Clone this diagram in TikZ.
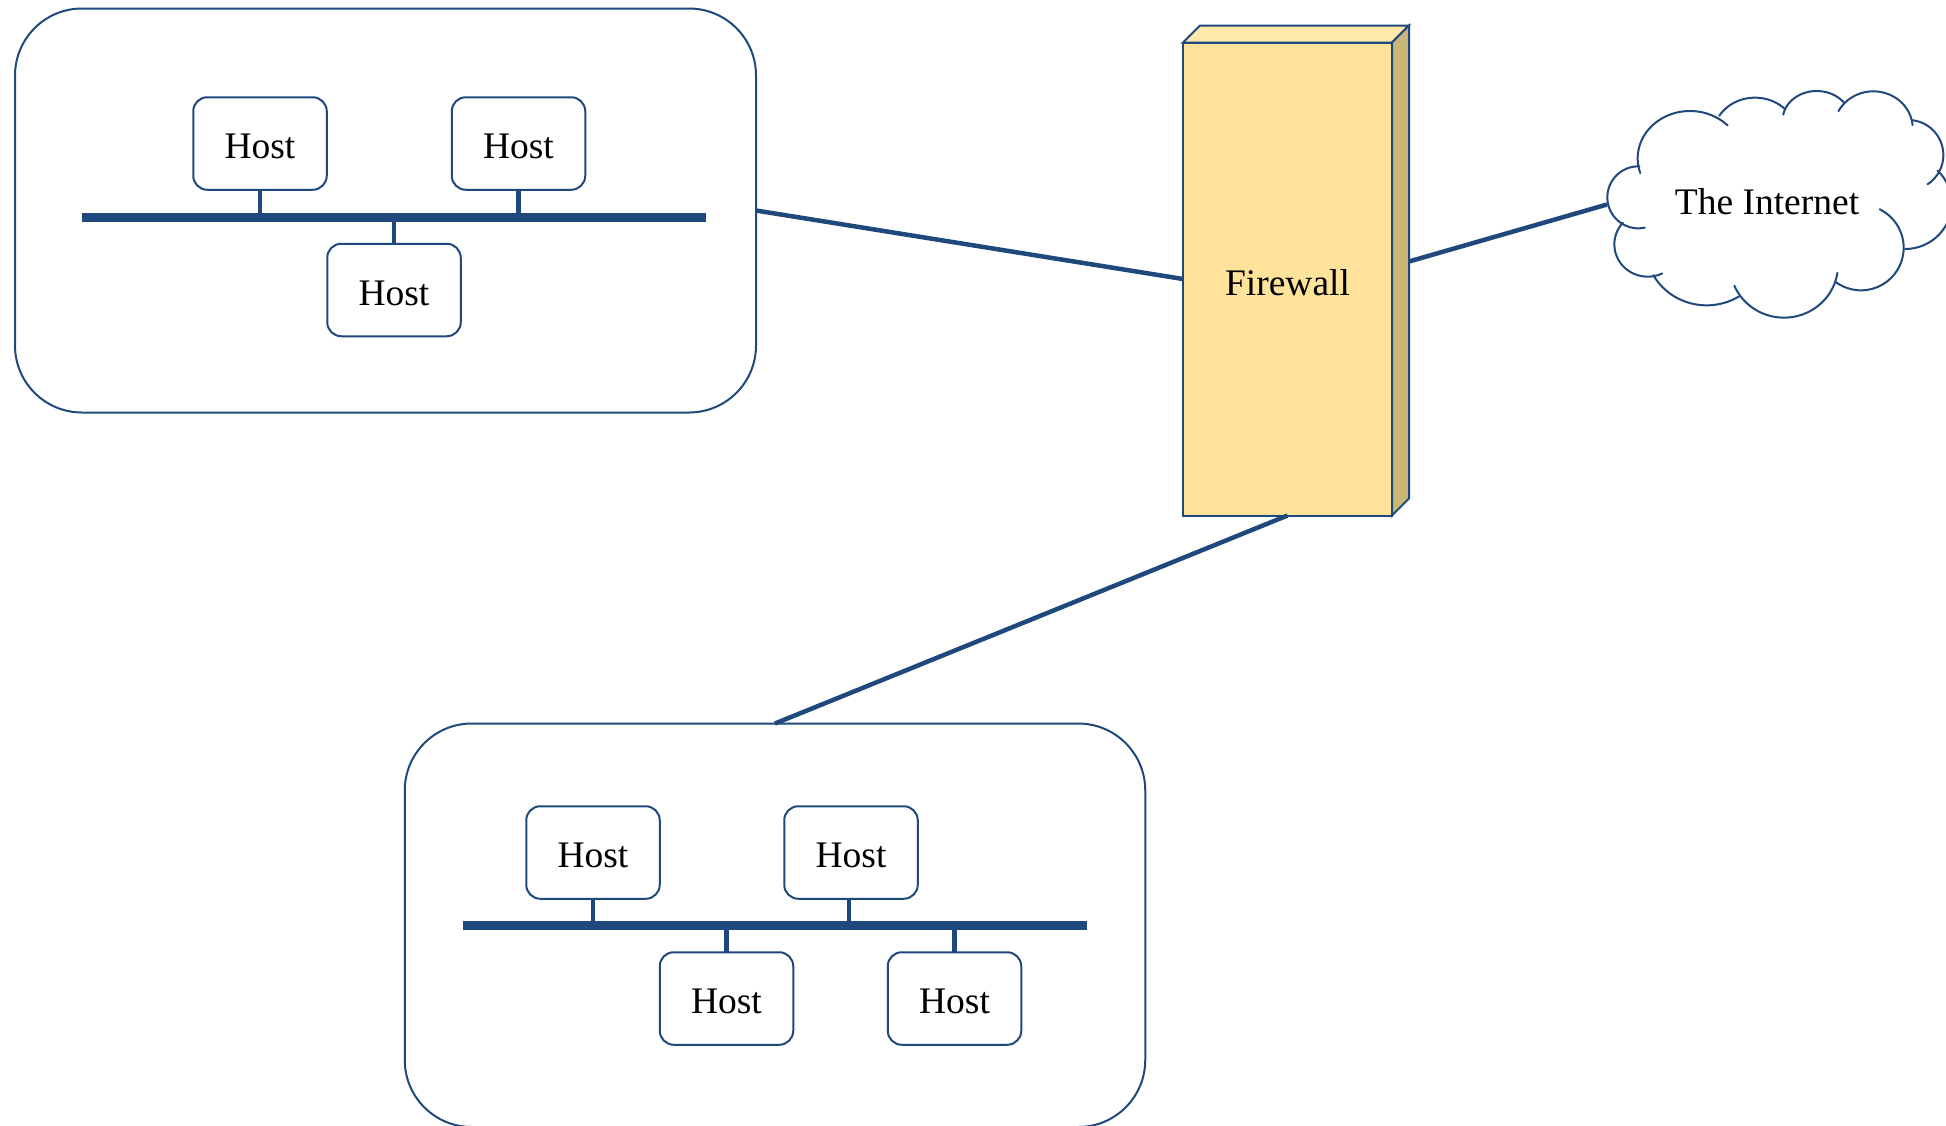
\documentclass[tikz,border=0pt]{standalone}
\usepackage{fontspec}
\setmainfont{Liberation Serif}
\definecolor{navy}{HTML}{1F497D}
\definecolor{fwfront}{HTML}{FFE39A}
\definecolor{fwtop}{HTML}{FEE9AB}
\definecolor{fwside}{HTML}{C9B778}
\tikzset{
  netbox/.style={draw=navy,line width=2pt,rounded corners=67pt,fill=white,inner sep=0pt,outer sep=0pt},
  hostbox/.style={draw=navy,line width=2pt,rounded corners=14pt,fill=white,minimum width=133.5pt,minimum height=92.5pt,inner sep=0pt,outer sep=0pt,text height=30pt,text depth=0pt,font=\fontsize{37.5}{40}\selectfont},
  busline/.style={draw=navy,line width=8.5pt},
  stub/.style={draw=navy,line width=4.5pt},
  link/.style={draw=navy,line width=4.5pt},
  fwedge/.style={draw=navy,line width=2pt,line join=miter},
  lobe/.style={draw=navy,line width=2pt,line cap=round},
  label/.style={inner sep=0pt,outer sep=0pt,font=\fontsize{37.5}{40}\selectfont}
}
% centre x, centre y, x radius, y radius, start angle, end angle
\newcommand{\cloudlobe}[6]{\draw[lobe] plot[domain=#5:#6,samples=40,smooth] ({#1+#3*cos(\x)},{#2+#4*sin(\x)});}
\begin{document}
\begin{tikzpicture}[x=1pt,y=-1pt]
\useasboundingbox (0,0) rectangle (1946,1125);
\clip (0,0) rectangle (1946,1125);
\fill[white] (0,0) rectangle (1946,1125);

% Network boxes
\node[netbox,minimum width=741pt,minimum height=404pt] (netA) at (385.5,210.5) {};
\node[netbox,minimum width=740.5pt,minimum height=403.5pt] (netB) at (775,925.25) {};

% Upper network
\coordinate (busAl) at (82,217.5);
\coordinate (busAr) at (706,217.5);
\node[hostbox] (a1) at (260,143.5) {Host};
\node[hostbox] (a2) at (518.5,143.5) {Host};
\node[hostbox] (a3) at (394,290) {Host};
\draw[busline] (busAl) -- (busAr);
\draw[stub] (a1.south) -- (a1.south |- busAl);
\draw[stub] (a2.south) -- (a2.south |- busAl);
\draw[stub] (a3.north) -- (a3.north |- busAl);

% Lower network
\coordinate (busBl) at (463,925.5);
\coordinate (busBr) at (1087,925.5);
\node[hostbox] (b1) at (593,852.5) {Host};
\node[hostbox] (b2) at (851,852.5) {Host};
\node[hostbox] (b3) at (726.5,998.5) {Host};
\node[hostbox] (b4) at (954.5,998.5) {Host};
\draw[busline] (busBl) -- (busBr);
\draw[stub] (b1.south) -- (b1.south |- busBl);
\draw[stub] ([xshift=-2pt]b2.south) -- ([xshift=-2pt]b2.south |- busBl);
\draw[stub] (b3.north) -- (b3.north |- busBl);
\draw[stub] (b4.north) -- (b4.north |- busBl);

% Firewall
\coordinate (fwTL) at (1183,42.5);
\coordinate (fwTR) at (1392,42.5);
\coordinate (fwBR) at (1392,515.5);
\coordinate (fwTLb) at (1200,25.5);
\coordinate (fwTRb) at (1409,25.5);
\coordinate (fwBRb) at (1409,498.5);
\coordinate (fwSide) at (1409,261.5);
\draw[fwedge,fill=fwtop] (fwTL) -- (fwTLb) -- (fwTRb) -- (fwTR) -- cycle;
\draw[fwedge,fill=fwside] (fwTR) -- (fwTRb) -- (fwBRb) -- (fwBR) -- cycle;
\node[draw=navy,line width=2pt,fill=fwfront,minimum width=209pt,minimum height=473pt,inner sep=0pt,outer sep=0pt,text height=0pt,text depth=0pt,font=\fontsize{37.5}{40}\selectfont] (fw) at (1287.5,279) {\raisebox{-16.5pt}{Firewall}};

% Cloud
\begin{scope}[shift={(1580,70)},x=0.33333pt,y=-0.33333pt]
\cloudlobe{175}{382}{93}{93}{272}{78}
\cloudlobe{330}{265}{157}{142}{162}{316}
\cloudlobe{525}{195}{125}{112}{211}{316}
\cloudlobe{710}{150}{102}{87}{190.6}{324}
\cloudlobe{880}{175}{118}{111}{207.7}{355}
\cloudlobe{985}{255}{105}{105}{276.5}{416.8}
\cloudlobe{975}{400}{140}{137}{-46}{90}
\cloudlobe{843}{533}{128}{128}{-64}{127}
\cloudlobe{612}{585}{162}{158}{8.5}{157}
\cloudlobe{380}{530}{183}{176}{58}{151}
\cloudlobe{203}{523}{100}{97}{64}{222}
\end{scope}
\node[label] (inet) at (1767,201.5) {The Internet};
\coordinate (cloudW) at (1607,204.5);

% Links
\draw[link] (netA.east) -- (fw.west);
\draw[link] (fw.south) -- (netB.north);
\draw[link] (fwSide) -- (cloudW);
\end{tikzpicture}
\end{document}
